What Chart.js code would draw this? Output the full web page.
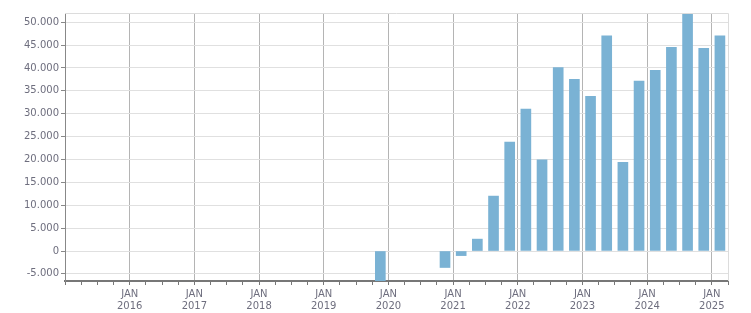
<!DOCTYPE html>
<html lang="de">
<head>
  <meta charset="UTF-8" />
  <title>Quartalswerte</title>
  <script src="https://cdn.jsdelivr.net/npm/chart.js"></script>
  <style>
    html, body { margin: 0; padding: 0; background: #ffffff; overflow: hidden; }
    #wrap { width: 751px; height: 313px; position: relative; }
  </style>
</head>
<body>
  <div id="wrap"><canvas id="chart"></canvas></div>

  <script>
    // quarters from Q4 2019 to Q1 2025 (earlier quarters are empty)
    const quarters = [
      '2019-Q4', '2020-Q1', '2020-Q2', '2020-Q3', '2020-Q4',
      '2021-Q1', '2021-Q2', '2021-Q3', '2021-Q4',
      '2022-Q1', '2022-Q2', '2022-Q3', '2022-Q4',
      '2023-Q1', '2023-Q2', '2023-Q3', '2023-Q4',
      '2024-Q1', '2024-Q2', '2024-Q3', '2024-Q4',
      '2025-Q1'
    ];
    const values = [
      -7000, null, null, null, -3600,
      -1000, 2600, 12000, 23800,
      31000, 19900, 40100, 37500,
      33800, 47000, 19400, 37100,
      39500, 44500, 52000, 44300,
      47000
    ];
    const yearTicks = [2016, 2017, 2018, 2019, 2020, 2021, 2022, 2023, 2024, 2025];
    const yTicks = [-5000, 0, 5000, 10000, 15000, 20000, 25000, 30000, 35000, 40000, 45000, 50000];

    // position a quarter at its middle, in years
    function quarterPos(q) {
      const [y, n] = q.split('-Q');
      return Number(y) + (Number(n) - 0.5) / 4;
    }

    const points = quarters.map((q, i) => ({ x: quarterPos(q), y: values[i] }));
    const isYear = v => Math.abs(v - Math.round(v)) < 1e-6;

    const fmt = new Intl.NumberFormat('de-DE');
    const font = { family: 'DejaVu Sans', size: 10 };

    new Chart(document.getElementById('chart'), {
      type: 'bar',
      data: {
        datasets: [{
          data: points,
          backgroundColor: '#7ab2d4',
          barThickness: 10,
          borderWidth: 0
        }]
      },
      options: {
        responsive: true,
        maintainAspectRatio: false,
        animation: false,
        layout: { padding: { top: 13, right: 23, left: 0, bottom: 0 } },
        plugins: { legend: { display: false }, tooltip: { enabled: false } },
        scales: {
          x: {
            type: 'linear',
            offset: false,
            min: 2015,
            max: 2025.25,
            ticks: {
              stepSize: 0.25,
              maxTicksLimit: 100,
              autoSkip: false,
              maxRotation: 0,
              color: '#6e6e7e',
              font: font,
              padding: 3,
              callback: v => (isYear(v) && yearTicks.includes(Math.round(v))) ? ['JAN', String(Math.round(v))] : ''
            },
            grid: {
              offset: false,
              drawOnChartArea: true,
              color: ctx => (ctx.tick && isYear(ctx.tick.value) && ctx.tick.value > 2015) ? '#b4b4b4' : 'rgba(0,0,0,0)',
              tickColor: '#777777',
              tickLength: 4,
              lineWidth: 1
            },
            border: { color: '#777777', width: 2 },
            afterFit: s => { s.height = 32; }
          },
          y: {
            min: -6550,
            max: 52000,
            afterBuildTicks: s => { s.ticks = yTicks.map(v => ({ value: v })); },
            ticks: {
              color: '#6e6e7e',
              font: font,
              padding: 2,
              callback: v => fmt.format(v)
            },
            grid: {
              color: '#e0e0e0',
              tickColor: '#888888',
              tickLength: 4
            },
            border: { color: '#888888', width: 1 },
            afterFit: s => { s.width = 65; }
          }
        }
      },
      plugins: [{
        id: 'frame',
        afterDraw(chart) {
          const { ctx, chartArea: a } = chart;
          ctx.save();
          ctx.strokeStyle = '#dcdcdc';
          ctx.lineWidth = 1;
          ctx.beginPath();
          ctx.moveTo(a.left, a.top + 0.5);
          ctx.lineTo(a.right + 0.5, a.top + 0.5);
          ctx.lineTo(a.right + 0.5, a.bottom);
          ctx.stroke();
          ctx.restore();
        }
      }]
    });
  </script>
</body>
</html>
